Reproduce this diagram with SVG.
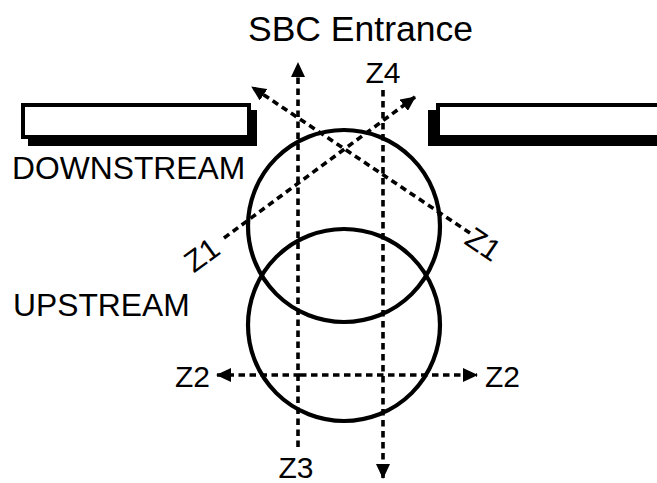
<svg xmlns="http://www.w3.org/2000/svg" width="657" height="483" viewBox="0 0 657 483">
<style>
text{font-family:"Liberation Sans",Arial,sans-serif;fill:#000}
.lbl{font-size:31.8px}
.z{font-size:30px}
.dash{stroke:#000;stroke-width:3.6;stroke-dasharray:6.5 4.5;fill:none}
.circ{fill:none;stroke:#000;stroke-width:4.2}
.wall{fill:#fff;stroke:#000;stroke-width:4}
</style>
<defs>
<marker id="ah" markerUnits="userSpaceOnUse" markerWidth="16" markerHeight="14" refX="14" refY="7" orient="auto" viewBox="0 0 16 14">
<path d="M0,0 L15,7 L0,14 z" fill="#000"/>
</marker>
</defs>
<rect width="657" height="483" fill="#fff"/>
<g id="title"><text x="248" y="41" font-size="35.5">SBC Entrance</text></g>
<g id="wall-left">
<rect x="28" y="110" width="229" height="36" fill="#000"/>
<rect class="wall" x="23" y="105" width="226" height="32"/>
</g>
<g id="wall-right">
<rect x="428" y="110" width="240" height="36" fill="#000"/>
<rect class="wall" x="438" y="105" width="240" height="32"/>
</g>
<g id="downstream"><text class="lbl" x="12" y="179">DOWNSTREAM</text></g>
<g id="upstream"><text class="lbl" x="13" y="316">UPSTREAM</text></g>
<g id="circle-downstream"><circle class="circ" cx="344" cy="226" r="96"/></g>
<g id="circle-upstream"><circle class="circ" cx="344" cy="325" r="96"/></g>
<g id="connectors">
<line class="dash" x1="298" y1="447" x2="298" y2="63" marker-end="url(#ah)"/>
<line class="dash" x1="383" y1="90" x2="383" y2="478" marker-end="url(#ah)"/>
<line class="dash" x1="300" y1="375" x2="217" y2="375" marker-end="url(#ah)"/>
<line class="dash" x1="300" y1="375" x2="477" y2="375" marker-end="url(#ah)"/>
<line class="dash" x1="224" y1="238" x2="415" y2="97" marker-end="url(#ah)"/>
<line class="dash" x1="470" y1="233" x2="252" y2="87" marker-end="url(#ah)"/>
</g>
<g id="labels">
<text class="z" x="383" y="83" text-anchor="middle">Z4</text>
<text class="z" x="296" y="478" text-anchor="middle">Z3</text>
<text class="z" x="210" y="387" text-anchor="end">Z2</text>
<text class="z" x="485" y="387">Z2</text>
<text class="z" transform="translate(222,253) rotate(-36)" text-anchor="end">Z1</text>
<text class="z" transform="translate(463,243) rotate(34)">Z1</text>
</g>
</svg>
